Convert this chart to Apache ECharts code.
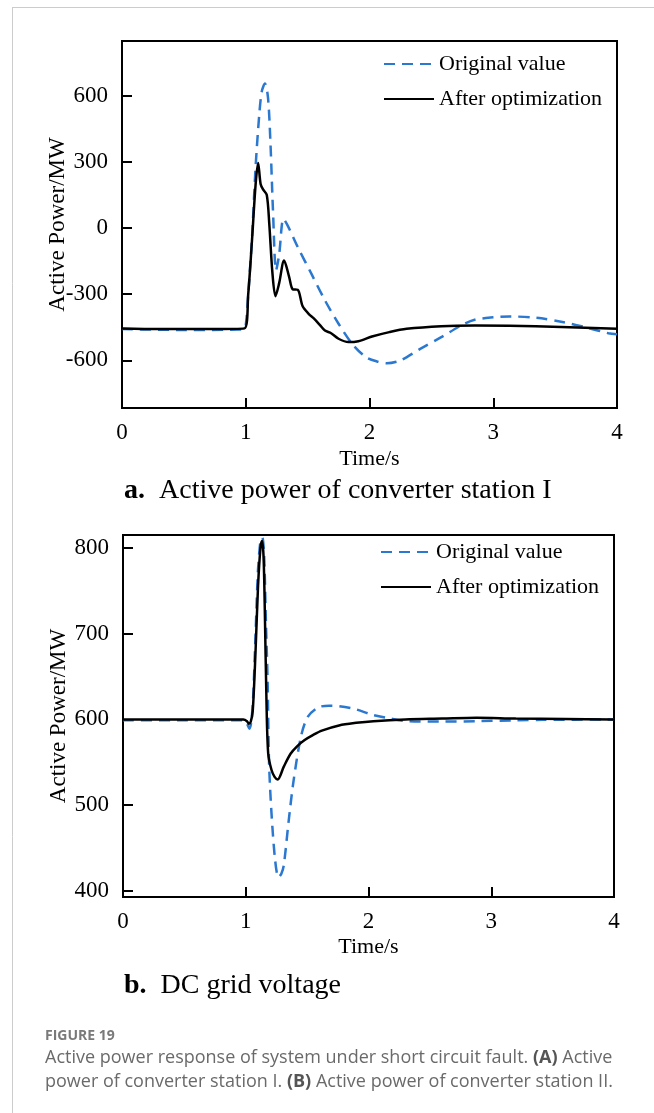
<!DOCTYPE html>
<html>
<head>
    <meta charset="utf-8">
    <title>Active power response</title>
    <script src="https://cdn.jsdelivr.net/npm/echarts@6/dist/echarts.min.js"></script>
    <style>
        html, body { margin: 0; padding: 0; background: #fff; }
        #main { width: 654px; height: 1113px; }
    </style>
</head>
<body>
<div id="main"></div>
<script type="text/javascript">
    // (a) active power of converter station I -- original value (blue dashed)
    var timeA1 = [0, 0.5, 0.98, 1.0, 1.02, 1.05, 1.08, 1.11, 1.13, 1.155, 1.18, 1.20, 1.22, 1.245, 1.27, 1.305, 1.34, 1.42, 1.53, 1.64, 1.75, 1.86, 1.97, 2.06, 2.14, 2.25, 2.41, 2.58, 2.74, 2.85, 3.0, 3.13, 3.35, 3.57, 3.74, 3.93, 4.0];
    var powerA1 = [-458, -462, -460, -440, -300, -50, 280, 520, 620, 655, 590, 380, 80, -192, -120, 42, 10, -86, -207, -328, -434, -525, -585, -605, -613, -600, -548, -495, -442, -416, -405, -401, -407, -427, -449, -477, -482];
    // (a) after optimization (black)
    var timeA2 = [0, 0.3, 0.7, 0.99, 1.02, 1.05, 1.08, 1.10, 1.12, 1.14, 1.17, 1.19, 1.215, 1.24, 1.27, 1.31, 1.35, 1.38, 1.42, 1.46, 1.51, 1.55, 1.6, 1.64, 1.69, 1.75, 1.83, 1.91, 2.02, 2.16, 2.3, 2.58, 2.85, 3.13, 3.55, 4.0];
    var powerA2 = [-455, -458, -458, -455, -300, -60, 200, 295, 200, 175, 150, 20, -200, -309, -250, -147, -220, -278, -280, -355, -390, -410, -440, -465, -477, -502, -517, -513, -492, -472, -457, -445, -442, -443, -449, -457];

    // (b) DC grid voltage -- original value (blue dashed)
    var timeB1 = [0, 0.5, 0.98, 1.01, 1.03, 1.045, 1.06, 1.08, 1.10, 1.12, 1.135, 1.15, 1.165, 1.178, 1.19, 1.21, 1.24, 1.267, 1.29, 1.31, 1.35, 1.39, 1.45, 1.505, 1.59, 1.68, 1.76, 1.9, 2.04, 2.18, 2.32, 2.6, 2.9, 3.2, 3.43, 4.0];
    var voltB1 = [599, 599, 599, 595, 589, 597, 625, 700, 775, 808, 812, 790, 710, 646, 549, 490, 435, 416, 420, 430, 482, 529, 580, 603, 614, 616, 615.5, 611.7, 605, 601, 598, 597.5, 598, 599, 599.5, 600];
    // (b) after optimization (black)
    var timeB2 = [0, 0.5, 0.98, 1.01, 1.025, 1.04, 1.057, 1.08, 1.10, 1.12, 1.133, 1.145, 1.155, 1.169, 1.183, 1.21, 1.235, 1.26, 1.31, 1.365, 1.42, 1.48, 1.55, 1.62, 1.76, 1.9, 2.04, 2.3, 2.6, 2.88, 3.2, 3.6, 4.0];
    var voltB2 = [600, 600, 600, 598, 595, 597, 610, 680, 755, 800, 808, 790, 730, 620, 560, 541, 533, 530, 545, 560, 569, 576, 582, 587, 593, 596, 598, 600, 601, 602, 601, 600.5, 600];

    var xTicks = [0, 1, 2, 3, 4];
    var yTicksA = [-600, -300, 0, 300, 600];
    var yTicksB = [400, 500, 600, 700, 800];

    var serif = '"Liberation Serif", "Times New Roman", serif';
    var sans = '"Open Sans", "Noto Sans", sans-serif';
    var blue = '#2b78d0';

    function pairs(ts, vs) {
        var out = [];
        for (var i = 0; i < ts.length; i++) {
            out.push([ts[i], vs[i]]);
        }
        return out;
    }

    function xAxisFor(gridIndex, gap) {
        return {
            gridIndex: gridIndex,
            type: 'value',
            min: 0, max: 4, interval: 1,
            name: 'Time/s',
            nameLocation: 'middle',
            nameGap: gap,
            nameMoveOverlap: false,
            nameTextStyle: { fontFamily: serif, fontSize: 22, color: '#000' },
            axisLine: { show: true, onZero: false, lineStyle: { color: '#000', width: 2 } },
            axisTick: { show: true, inside: true, length: 10, lineStyle: { color: '#000', width: 2 }, customValues: xTicks },
            axisLabel: { fontFamily: serif, fontSize: 23, color: '#000', margin: 13, customValues: xTicks },
            splitLine: { show: false }
        };
    }

    function yAxisFor(gridIndex, min, max, ticks) {
        return {
            gridIndex: gridIndex,
            type: 'value',
            min: min, max: max,
            name: 'Active Power/MW',
            nameLocation: 'middle',
            nameGap: 53,
            nameMoveOverlap: false,
            nameTextStyle: { fontFamily: serif, fontSize: 23, color: '#000' },
            axisLine: { show: true, onZero: false, lineStyle: { color: '#000', width: 2 } },
            axisTick: { show: true, inside: true, length: 10, lineStyle: { color: '#000', width: 2 }, customValues: ticks },
            axisLabel: { fontFamily: serif, fontSize: 23, color: '#000', margin: 14, customValues: ticks },
            splitLine: { show: false }
        };
    }

    function legendFor(left, top) {
        return {
            left: left, top: top,
            orient: 'vertical',
            padding: 0,
            itemWidth: 50, itemHeight: 14, itemGap: 13,
            itemStyle: { color: 'rgba(0,0,0,0)', borderWidth: 0 },
            textStyle: { fontFamily: serif, fontSize: 22, color: '#000' },
            data: ['Original value', 'After optimization'],
            selectedMode: false
        };
    }

    var dashStyle = { color: blue, width: 2.5, type: [11, 7] };
    var solidStyle = { color: '#000', width: 2.5 };

    var myChart = echarts.init(document.getElementById('main'), null, { renderer: 'canvas' });

    var option = {
        backgroundColor: '#fff',
        animation: false,
        title: [
            {
                text: '{b|a.}  Active power of converter station I',
                left: 119, top: 472,
                textStyle: { fontFamily: serif, fontSize: 28, fontWeight: 'normal', color: '#000',
                    rich: { b: { fontFamily: serif, fontSize: 28, fontWeight: 'bold', color: '#000' } } }
            },
            {
                text: '{b|b.}  DC grid voltage',
                left: 119, top: 967,
                textStyle: { fontFamily: serif, fontSize: 28, fontWeight: 'normal', color: '#000',
                    rich: { b: { fontFamily: serif, fontSize: 28, fontWeight: 'bold', color: '#000' } } }
            }
        ],
        legend: [legendFor(383, 53), legendFor(380, 541)],
        grid: [
            { left: 122, top: 41, width: 495, height: 367, show: true, borderColor: '#000', borderWidth: 2 },
            { left: 123, top: 535, width: 491, height: 362, show: true, borderColor: '#000', borderWidth: 2 }
        ],
        xAxis: [xAxisFor(0, 40), xAxisFor(1, 39)],
        yAxis: [yAxisFor(0, -816, 848, yTicksA), yAxisFor(1, 393, 815, yTicksB)],
        series: [
            { name: 'Original value', type: 'line', xAxisIndex: 0, yAxisIndex: 0, data: pairs(timeA1, powerA1),
              showSymbol: false, symbol: 'none', smooth: 0.3, lineStyle: dashStyle, itemStyle: { color: blue }, z: 2 },
            { name: 'After optimization', type: 'line', xAxisIndex: 0, yAxisIndex: 0, data: pairs(timeA2, powerA2),
              showSymbol: false, symbol: 'none', smooth: 0.3, lineStyle: solidStyle, itemStyle: { color: '#000' }, z: 3 },
            { name: 'Original value', type: 'line', xAxisIndex: 1, yAxisIndex: 1, data: pairs(timeB1, voltB1),
              showSymbol: false, symbol: 'none', smooth: 0.3, lineStyle: dashStyle, itemStyle: { color: blue }, z: 2 },
            { name: 'After optimization', type: 'line', xAxisIndex: 1, yAxisIndex: 1, data: pairs(timeB2, voltB2),
              showSymbol: false, symbol: 'none', smooth: 0.3, lineStyle: solidStyle, itemStyle: { color: '#000' }, z: 3 }
        ],
        graphic: [
            // page frame lines
            { type: 'line', shape: { x1: 12, y1: 7.5, x2: 654, y2: 7.5 }, style: { stroke: '#cccccc', lineWidth: 1 } },
            { type: 'line', shape: { x1: 12.5, y1: 7, x2: 12.5, y2: 1113 }, style: { stroke: '#cccccc', lineWidth: 1 } },
            // caption
            { type: 'text', x: 45, y: 1029, style: { text: 'FIGURE 19', font: 'bold 14px ' + sans, fill: '#7a7a7a' } },
            { type: 'text', x: 45, y: 1049, style: {
                text: 'Active power response of system under short circuit fault. {b|(A)} Active',
                font: '18px ' + sans, fill: '#6a6a6a',
                rich: { b: { fontFamily: 'Open Sans', fontSize: 18, fontWeight: 'bold', fill: '#555' } } } },
            { type: 'text', x: 45, y: 1073, style: {
                text: 'power of converter station I. {b|(B)} Active power of converter station II.',
                font: '18px ' + sans, fill: '#6a6a6a',
                rich: { b: { fontFamily: 'Open Sans', fontSize: 18, fontWeight: 'bold', fill: '#555' } } } }
        ]
    };

    myChart.setOption(option);
</script>
</body>
</html>
